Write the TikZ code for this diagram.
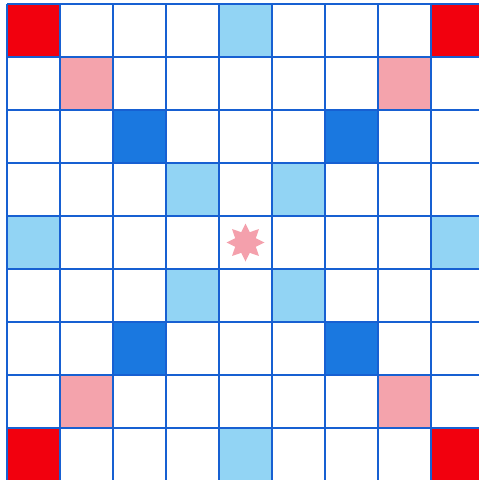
\documentclass[tikz,border=0pt]{standalone}
\usetikzlibrary{shapes.geometric}
\definecolor{redc}{HTML}{F2000E}
\definecolor{pinkc}{HTML}{F4A3AC}
\definecolor{dblue}{HTML}{1A78E0}
\definecolor{lblue}{HTML}{92D4F4}
\definecolor{gridc}{HTML}{1760D2}
\definecolor{starc}{HTML}{F4A0AC}
\tikzset{
  gridline/.style={draw=gridc, line width=2.8pt},
}
\begin{document}
\begin{tikzpicture}[x=1pt,y=-1pt]
\useasboundingbox (0,0) rectangle (479,480);
\fill[white] (0,0) rectangle (479,480);
\def\ox{7}\def\oy{4}\def\cs{53}
\newcommand{\mycell}[3]{\fill[#3] ({\ox+#2*\cs},{\oy+#1*\cs}) rectangle ({\ox+(#2+1)*\cs},{\oy+(#1+1)*\cs});}
\foreach \r/\c in {0/0,0/8,8/0,8/8} {\mycell{\r}{\c}{redc}}
\foreach \r/\c in {1/1,1/7,7/1,7/7} {\mycell{\r}{\c}{pinkc}}
\foreach \r/\c in {2/2,2/6,6/2,6/6} {\mycell{\r}{\c}{dblue}}
\foreach \r/\c in {0/4,8/4,4/0,4/8,3/3,3/5,5/3,5/5} {\mycell{\r}{\c}{lblue}}
\foreach \i in {0,...,9} {
  \draw[gridline] ({\ox+\i*\cs},{\oy}) -- ({\ox+\i*\cs},{\oy+9*\cs});
  \draw[gridline] ({\ox},{\oy+\i*\cs}) -- ({\ox+9*\cs},{\oy+\i*\cs});
}
\node[star, star points=8, star point ratio=1.7, minimum size=38pt, inner sep=0pt, fill=starc, draw=none] (centerstar) at ({\ox+4.5*\cs},{\oy+4.5*\cs}) {};
\end{tikzpicture}
\end{document}
